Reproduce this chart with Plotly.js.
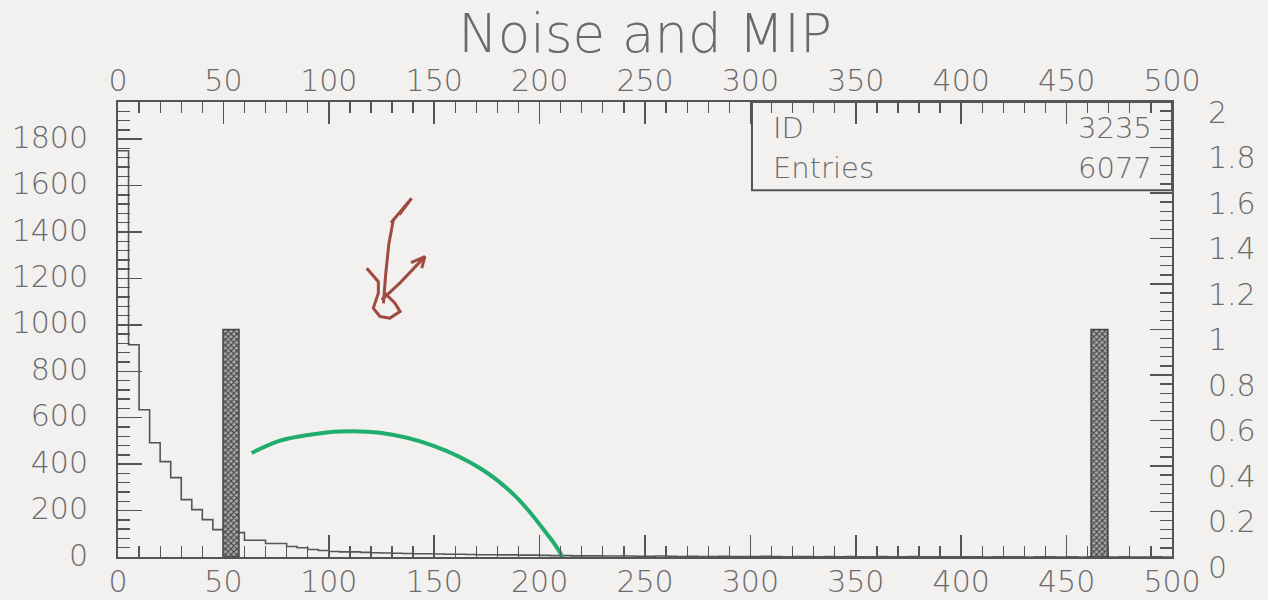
<!DOCTYPE html>
<html>
<head>
<meta charset="utf-8">
<script src="https://cdn.plot.ly/plotly-3.0.1.min.js"></script>
<style>html,body{margin:0;padding:0;background:#f3f0f0;}#chart{width:1268px;height:600px;}</style>
</head>
<body>
<div id="chart"></div>
<script>
// Histogram "Noise and MIP": bins of width 5 from 0 to 500
const binWidth = 5;
const counts = [
  1750, 914, 634, 492, 411, 342, 247, 204, 161, 118,
  110, 105, 72, 72, 58, 58, 45, 40, 32, 28,
  24, 22, 22, 20, 18, 17, 16, 15, 14, 14,
  13, 12, 12, 11, 10, 10, 9, 9, 8, 8,
  7, 6, 6, 5, 5, 5, 4, 4, 4, 3,
  3, 4, 3, 2, 3, 2, 2, 3, 2, 2,
  2, 3, 2, 1, 2, 2, 1, 2, 1, 2,
  1, 1, 2, 1, 1, 2, 1, 1, 1, 1,
  1, 1, 0, 1, 1, 1, 0, 1, 1, 0,
  1, 0, 1, 1, 0, 1, 0, 0, 1, 0
];
// Cut markers (right axis scale)
const markerX = [53.6, 465.6];
const markerHeight = [1, 1];
const markerWidth = [7.6, 8];
// Stats box
const statLabels = ["ID", "Entries"];
const statValues = ["3235", "6077"];
// Hand-drawn green curve
const greenX = [63.4, 76.9, 91.1, 105.3, 124.3, 149.4, 173.1, 189.3, 201.6, 209.7, 219];
const greenY = [448, 501, 527, 541, 535, 480, 375, 255, 122, 19, -183];
// Hand-drawn brown arrows
const penX = [125.9, 127.0, 128.5, 130.6, null, 129.5, 139.3, 133.5, null,
  125.1, 133.8, 145.6, null, 139.0, 145.6, 144.1, null,
  118, 123.5, 123.5, 121.1, 124.3, 129.0, 133.8, 131.4, 126.7];
const penY = [1093, 1220, 1350, 1452, null, 1440, 1545, 1475, null,
  1108, 1181, 1294, null, 1268, 1294, 1244, null,
  1244, 1186, 1136, 1072, 1036, 1029, 1057, 1093, 1136];

const edges = counts.map((_, i) => i * binWidth).concat([counts.length * binWidth]);
const stepY = counts.concat([counts[counts.length - 1]]);

const ink = '#555555';
const txt = '#6a6a6a';
const fnt = {family: 'DejaVu Sans', size: 30, color: txt, weight: 200};

const traces = [
  {type: 'scatter', mode: 'lines', x: edges, y: stepY, line: {shape: 'hv', color: ink, width: 1.6}, xaxis: 'x', yaxis: 'y', hoverinfo: 'skip'},
  {type: 'bar', x: markerX, y: markerHeight, width: markerWidth, xaxis: 'x', yaxis: 'y2',
   marker: {color: '#8a8a8a', line: {color: '#444', width: 1.5},
            pattern: {shape: 'x', size: 4, solidity: 0.45, fgcolor: '#3c3c3c', bgcolor: '#a8a8a8'}}},
  {type: 'scatter', mode: 'lines', x: greenX, y: greenY, line: {shape: 'spline', color: '#1fae6e', width: 4}, xaxis: 'x', yaxis: 'y'},
  {type: 'scatter', mode: 'lines', x: penX, y: penY, connectgaps: false, line: {color: '#a04a40', width: 3}, xaxis: 'x', yaxis: 'y'},
  // anchor trace so the top axis is drawn
  {type: 'scatter', mode: 'markers', x: [0], y: [0], xaxis: 'x2', yaxis: 'y', marker: {opacity: 0}, hoverinfo: 'skip'}
];

const xCommon = {range: [0, 500], dtick: 50, ticks: 'inside', ticklen: 22, tickwidth: 1.5, tickcolor: ink,
  showline: true, linecolor: ink, linewidth: 2, showgrid: false, zeroline: false, tickfont: fnt,
  minor: {dtick: 10, ticks: 'inside', ticklen: 11, tickwidth: 1.3, tickcolor: ink, showgrid: false}};

const layout = {
  width: 1268, height: 600,
  paper_bgcolor: '#f3f0f0', plot_bgcolor: '#f3f0f0',
  margin: {l: 118, r: 96, t: 102, b: 43},
  showlegend: false,
  bargap: 0,
  title: {text: 'Noise and MIP', font: {family: 'DejaVu Sans', size: 53, color: txt, weight: 200},
          xref: 'paper', x: 0.5, xanchor: 'center', yref: 'container', y: 0.945, yanchor: 'middle'},
  xaxis: Object.assign({}, xCommon, {side: 'bottom', anchor: 'y', ticklabelstandoff: -3}),
  xaxis2: Object.assign({}, xCommon, {side: 'top', overlaying: 'x', anchor: 'y', ticklabelstandoff: -3}),
  yaxis: {range: [0, 1960], dtick: 200, ticks: 'inside', ticklen: 24, tickwidth: 1.5, tickcolor: ink,
    showline: true, linecolor: ink, linewidth: 2, showgrid: false, zeroline: false, tickfont: fnt,
    ticklabelstandoff: 22, ticklabelshift: -2,
    minor: {dtick: 40, ticks: 'inside', ticklen: 12, tickwidth: 1.3, tickcolor: ink, showgrid: false}},
  yaxis2: {range: [0, 2], dtick: 0.2, ticks: 'inside', ticklen: 22, tickwidth: 1.5, tickcolor: ink,
    overlaying: 'y', side: 'right', anchor: 'x',
    showline: true, linecolor: ink, linewidth: 2, showgrid: false, zeroline: false, tickfont: fnt,
    ticklabelstandoff: 28, ticklabelshift: 10,
    minor: {dtick: 0.04, ticks: 'inside', ticklen: 12, tickwidth: 1.3, tickcolor: ink, showgrid: false}},
  shapes: [
    {type: 'rect', xref: 'paper', yref: 'paper', x0: 0.6015, x1: 1.0, y0: 0.806, y1: 1.0,
     line: {color: ink, width: 2}, fillcolor: 'rgba(0,0,0,0)'}
  ],
  annotations: []
};
const statY = [0.943, 0.855];
statLabels.forEach((lab, i) => {
  layout.annotations.push({xref: 'paper', yref: 'paper', x: 0.62, y: statY[i], xanchor: 'left', yanchor: 'middle',
    text: lab, showarrow: false, font: {family: 'DejaVu Sans', size: 29, color: txt, weight: 200}});
  layout.annotations.push({xref: 'paper', yref: 'paper', x: 0.983, y: statY[i], xanchor: 'right', yanchor: 'middle',
    text: statValues[i], showarrow: false, font: {family: 'DejaVu Sans', size: 29, color: txt, weight: 200}});
});

Plotly.newPlot('chart', traces, layout, {staticPlot: true});
</script>
</body>
</html>
